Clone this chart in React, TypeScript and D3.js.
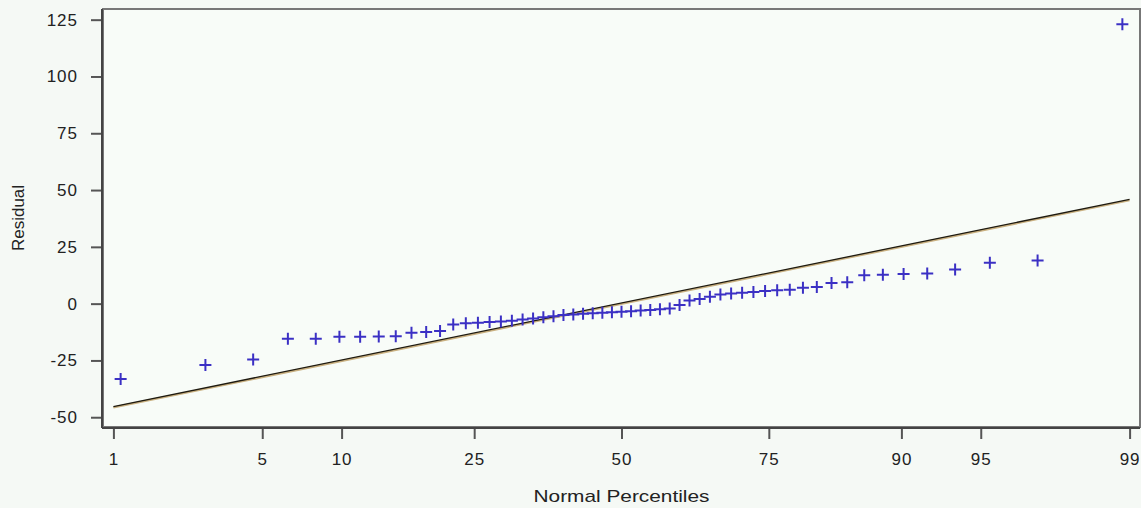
import { useEffect, useRef } from 'react';
import * as d3 from 'd3';

const WIDTH = 1141;
const HEIGHT = 508;
const MARGIN = { top: 9, right: 1, bottom: 81, left: 103 };

// sorted residuals (n = 57)
const RESIDUALS = [
  -33.2, -27.0, -24.6, -15.4, -15.4, -14.6, -14.6, -14.5, -14.3, -12.8,
  -12.5, -12.0, -9.2, -8.6, -8.4, -8.1, -7.9, -7.5, -7.0, -6.5,
  -6.0, -5.5, -5.0, -4.8, -4.5, -4.2, -4.0, -3.8, -3.6, -3.3,
  -3.0, -2.8, -2.5, -2.1, -0.6, 1.4, 2.0, 3.0, 4.0, 4.5,
  4.8, 5.1, 5.6, 5.9, 6.1, 7.0, 7.3, 9.1, 9.4, 12.5,
  12.7, 13.0, 13.3, 15.0, 18.0, 19.0, 123.0,
];

const X_TICKS = [1, 5, 10, 25, 50, 75, 90, 95, 99];
const Y_TICKS = [-50, -25, 0, 25, 50, 75, 100, 125];

// reference normal line: mu + sigma * z
const LINE_MU = 0.3;
const LINE_SIGMA = 19.6;

// inverse normal CDF (Acklam)
function probit(p: number): number {
  const a = [-39.69683028665376, 220.9460984245205, -275.9285104469687, 138.357751867269, -30.66479806614716, 2.506628277459239];
  const b = [-54.47609879822406, 161.5858368580409, -155.6989798598866, 66.80131188771972, -13.28068155288572];
  const c = [-0.007784894002430293, -0.3223964580411365, -2.400758277161838, -2.549732539343734, 4.374664141464968, 2.938163982698783];
  const d = [0.007784695709041462, 0.3224671290700398, 2.445134137142996, 3.754408661907416];
  const pl = 0.02425;
  if (p < pl) {
    const q = Math.sqrt(-2 * Math.log(p));
    return (((((c[0] * q + c[1]) * q + c[2]) * q + c[3]) * q + c[4]) * q + c[5]) / ((((d[0] * q + d[1]) * q + d[2]) * q + d[3]) * q + 1);
  }
  if (p > 1 - pl) {
    const q = Math.sqrt(-2 * Math.log(1 - p));
    return -(((((c[0] * q + c[1]) * q + c[2]) * q + c[3]) * q + c[4]) * q + c[5]) / ((((d[0] * q + d[1]) * q + d[2]) * q + d[3]) * q + 1);
  }
  const q = p - 0.5;
  const r = q * q;
  return ((((((a[0] * r + a[1]) * r + a[2]) * r + a[3]) * r + a[4]) * r + a[5]) * q) / (((((b[0] * r + b[1]) * r + b[2]) * r + b[3]) * r + b[4]) * r + 1);
}

export default function App() {
  const svgRef = useRef<SVGSVGElement>(null);

  useEffect(() => {
    const svg = d3.select(svgRef.current);
    svg.selectAll('*').remove();

    const w = WIDTH - MARGIN.left - MARGIN.right;
    const h = HEIGHT - MARGIN.top - MARGIN.bottom;
    const n = RESIDUALS.length;

    const x = d3.scaleLinear().domain([-2.374, 2.374]).range([0, w]);
    const y = d3.scaleLinear().domain([-54.3, 129.7]).range([h, 0]);

    svg.append('rect').attr('width', WIDTH).attr('height', HEIGHT).attr('fill', '#f5f9f5');

    const g = svg.append('g').attr('transform', `translate(${MARGIN.left},${MARGIN.top})`);
    g.append('rect').attr('width', w).attr('height', h).attr('fill', '#f8fcf8');

    const font = '"Liberation Sans", Arial, sans-serif';

    // axes
    const xAxis = g.append('g')
      .attr('transform', `translate(0,${h + 1})`)
      .call(
        d3.axisBottom(x)
          .tickValues(X_TICKS.map((p) => probit(p / 100)))
          .tickFormat((_, i) => String(X_TICKS[i]))
          .tickSize(11)
          .tickSizeOuter(0)
          .tickPadding(14)
      );
    const yAxis = g.append('g')
      .attr('transform', 'translate(-1,0)')
      .call(
        d3.axisLeft(y)
          .tickValues(Y_TICKS)
          .tickFormat((v) => String(v))
          .tickSize(11)
          .tickSizeOuter(0)
          .tickPadding(13)
      );

    [xAxis, yAxis].forEach((ax) => {
      ax.select('.domain').remove();
      ax.selectAll('.tick line').attr('stroke', '#555').attr('stroke-width', 2);
      ax.selectAll('.tick text')
        .style('font-family', font)
        .style('font-size', '17px')
        .style('letter-spacing', '1px')
        .attr('fill', '#222');
    });

    // frame
    g.append('rect')
      .attr('width', w)
      .attr('height', h)
      .attr('fill', 'none')
      .attr('stroke', '#777')
      .attr('stroke-width', 2);
    g.append('line').attr('x1', -1).attr('x2', -1).attr('y1', 0).attr('y2', h + 1).attr('stroke', '#444').attr('stroke-width', 2);
    g.append('line').attr('x1', -1).attr('x2', w).attr('y1', h + 1).attr('y2', h + 1).attr('stroke', '#444').attr('stroke-width', 2);

    // reference line
    const z0 = probit(0.01);
    const z1 = probit(0.99);
    const linePts: [number, number][] = [[z0, LINE_MU + LINE_SIGMA * z0], [z1, LINE_MU + LINE_SIGMA * z1]];
    const line = d3.line<[number, number]>().x((d) => x(d[0])).y((d) => y(d[1]));
    g.append('path').attr('d', line(linePts)).attr('transform', 'translate(0,1)').attr('stroke', '#c9b080').attr('stroke-width', 2).attr('fill', 'none');
    g.append('path').attr('d', line(linePts)).attr('stroke', '#1e1a10').attr('stroke-width', 1.3).attr('fill', 'none');

    // points (Blom plotting positions)
    const pts = RESIDUALS.map((v, i) => ({ z: probit((i + 1 - 0.375) / (n + 0.25)), v }));
    g.selectAll('.pt')
      .data(pts)
      .join('path')
      .attr('class', 'pt')
      .attr('transform', (d) => `translate(${x(d.z)},${y(d.v)})`)
      .attr('d', 'M-6,0H6M0,-6V6')
      .attr('stroke', '#3b30c4')
      .attr('stroke-width', 2)
      .attr('fill', 'none');

    // titles
    svg.append('text')
      .attr('x', MARGIN.left + w / 2)
      .attr('y', 502)
      .attr('text-anchor', 'middle')
      .attr('textLength', 176)
      .attr('lengthAdjust', 'spacingAndGlyphs')
      .style('font-family', font)
      .style('font-size', '17px')
      .attr('fill', '#222')
      .text('Normal Percentiles');
    svg.append('text')
      .attr('transform', `translate(24,${MARGIN.top + h / 2}) rotate(-90)`)
      .attr('text-anchor', 'middle')
      .style('font-family', font)
      .style('font-size', '17px')
      .attr('fill', '#222')
      .text('Residual');
  }, []);

  return (
    <div style={{ position: 'absolute', left: 0, top: 0 }}>
      <svg ref={svgRef} width={WIDTH} height={HEIGHT} style={{ display: 'block' }} />
    </div>
  );
}
